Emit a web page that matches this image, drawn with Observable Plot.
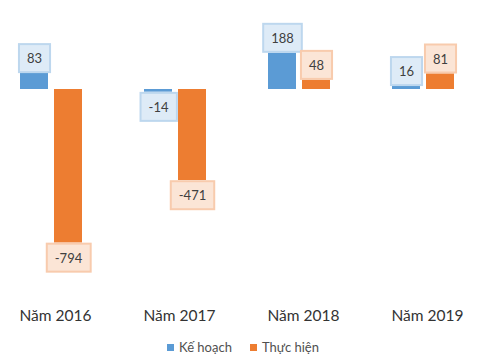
<!DOCTYPE html>
<html>
<head>
<meta charset="utf-8">
<script src="https://cdn.jsdelivr.net/npm/d3@7"></script>
<script src="https://cdn.jsdelivr.net/npm/@observablehq/plot@0.6"></script>
<style>
  html, body { margin: 0; padding: 0; background: #fff; }
  #chart { width: 500px; font-family: Lato, "Open Sans", sans-serif; }
  .legend { display: flex; justify-content: center; align-items: center; height: 24px; font-size: 13px; color: #505050; font-family: Lato, sans-serif; padding-right: 14px; }
  .legend span.sw { display: inline-block; width: 7px; height: 7px; margin-right: 5px; }
  .legend .item { display: flex; align-items: center; margin: 0 9px; }
</style>
</head>
<body>
<div id="chart"></div>
<script>
const years = ["Năm 2016", "Năm 2017", "Năm 2018", "Năm 2019"];
const seriesNames = ["Kế hoạch", "Thực hiện"];
const keHoach = [83, -14, 188, 16];
const thucHien = [-794, -471, 48, 81];
const colors = ["#5B9BD5", "#ED7D31"];

const data = years.flatMap((y, i) => [
  {year: y, series: seriesNames[0], value: keHoach[i]},
  {year: y, series: seriesNames[1], value: thucHien[i]}
]);

const plot = Plot.plot({
  width: 500,
  height: 335,
  marginLeft: 0,
  marginRight: 4,
  marginTop: 31,
  marginBottom: 72,
  style: {fontFamily: "Lato, sans-serif", background: "#fff"},
  fx: {domain: years, padding: 0, label: null},
  x: {domain: seriesNames, paddingInner: 0.191, paddingOuter: 0.919, align: 0.32, axis: null},
  y: {domain: [-900, 300], axis: null},
  color: {domain: seriesNames, range: colors},
  marks: [
    Plot.barY(data, {fx: "year", x: "series", y: "value", fill: "series"}),
    Plot.text(data, {filter: d => d.value >= 0, fx: "year", x: "series", y: "value", text: d => String(d.value), dy: -14.5, fontSize: 13, fill: "#404040", className: "lbl"}),
    Plot.text(data, {filter: d => d.value < 0, fx: "year", x: "series", y: "value", text: d => String(d.value), dy: 15.5, fontSize: 13, fill: "#404040", className: "lbl"}),
    Plot.axisFx({anchor: "bottom", tickSize: 0, tickPadding: 46, dx: -7, fontSize: 15.5, color: "#333", label: null})
  ]
});

document.getElementById("chart").appendChild(plot);

// label boxes behind the data labels
const boxStyle = {
  [seriesNames[0]]: {fill: "#DEEBF7", stroke: "#BDD7EE"},
  [seriesNames[1]]: {fill: "#FBE5D6", stroke: "#F8CBAD"}
};
plot.querySelectorAll("g.lbl text").forEach(t => {
  const d = data.find(e => String(e.value) === t.textContent);
  const st = boxStyle[d.series];
  const b = t.getBBox();
  const padX = 8, padY = 6;
  const r = document.createElementNS("http://www.w3.org/2000/svg", "rect");
  r.setAttribute("x", b.x - padX);
  r.setAttribute("y", b.y - padY);
  r.setAttribute("width", b.width + 2 * padX);
  r.setAttribute("height", b.height + 2 * padY);
  r.setAttribute("fill", st.fill);
  r.setAttribute("stroke", st.stroke);
  r.setAttribute("stroke-width", 2);
  if (t.getAttribute("transform")) r.setAttribute("transform", t.getAttribute("transform"));
  t.parentNode.insertBefore(r, t);
});

const legend = document.createElement("div");
legend.className = "legend";
seriesNames.forEach((s, i) => {
  const item = document.createElement("div");
  item.className = "item";
  const sw = document.createElement("span");
  sw.className = "sw";
  sw.style.background = colors[i];
  item.appendChild(sw);
  item.appendChild(document.createTextNode(s));
  legend.appendChild(item);
});
document.getElementById("chart").appendChild(legend);
</script>
</body>
</html>
